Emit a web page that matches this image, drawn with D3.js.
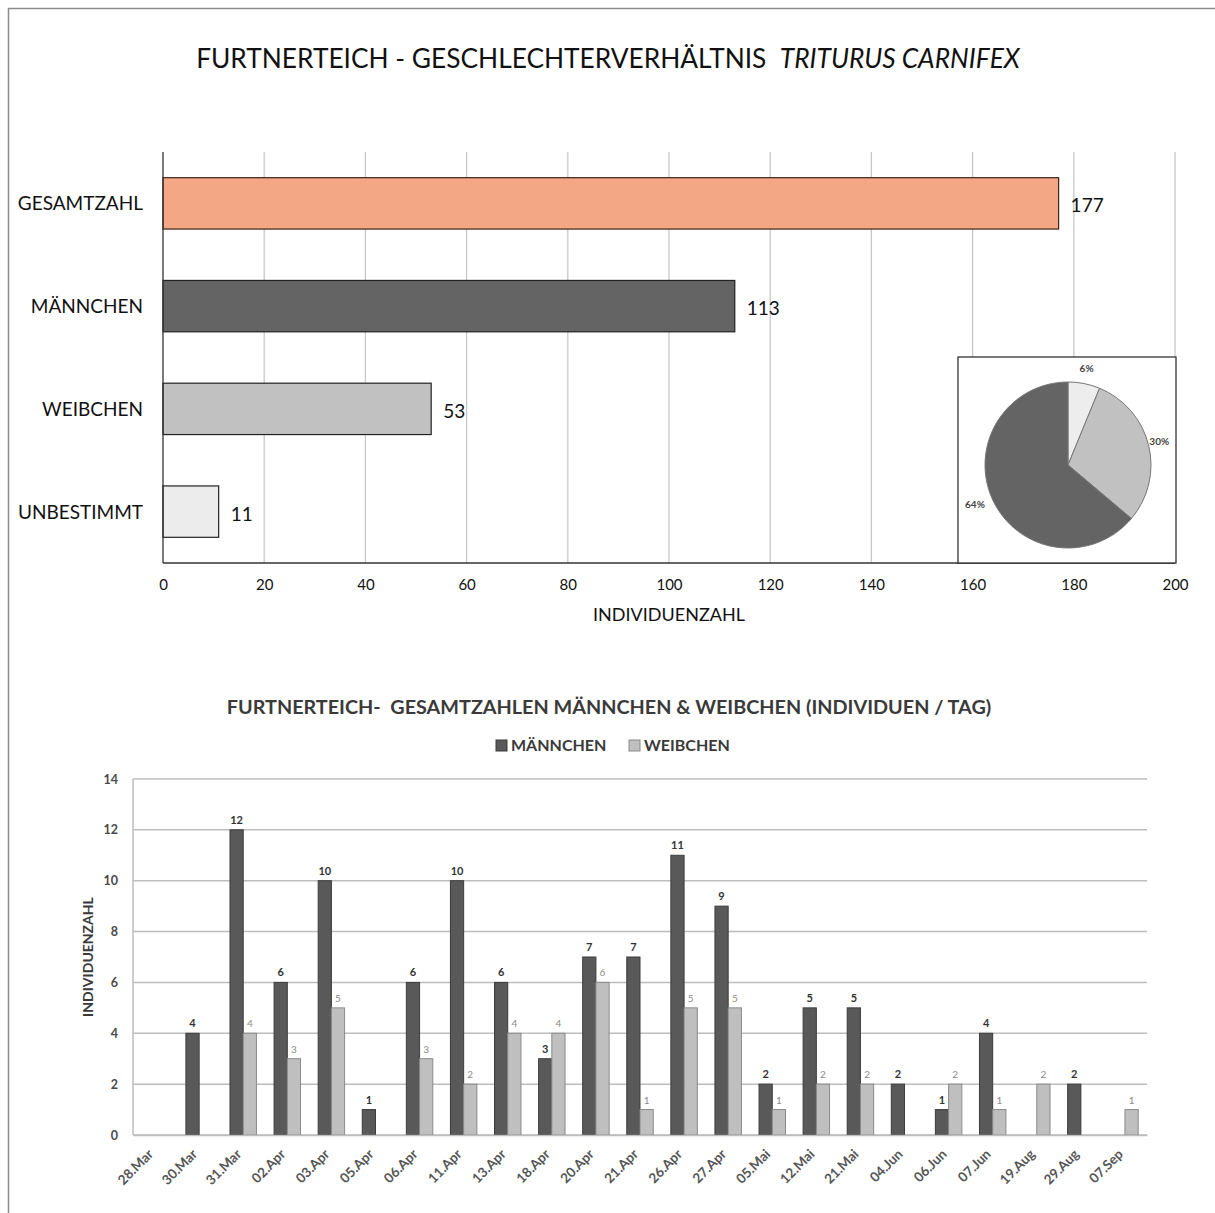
<!DOCTYPE html>
<html><head><meta charset="utf-8">
<script src="https://cdn.jsdelivr.net/npm/d3@7"></script>
<style>
body{margin:0;background:#fff;}
svg text{font-family:Lato,"Open Sans",sans-serif;}
</style></head>
<body>
<svg id="c" width="1215" height="1213"></svg>
<script>
// ---------- data ----------
const sexCategories = ["GESAMTZAHL","MÄNNCHEN","WEIBCHEN","UNBESTIMMT"];
const sexCounts = [177,113,53,11];
const sexColors = ["#f3a784","#646464","#c1c1c1","#ececec"];
const xTicksTop = [0,20,40,60,80,100,120,140,160,180,200];

const pieCategories = ["UNBESTIMMT","WEIBCHEN","MÄNNCHEN"];
const pieValues = [11,53,113];
const pieLabels = ["6%","30%","64%"];
const pieColors = ["#ededed","#c1c1c1","#646464"];

const dates = ["28.Mar","30.Mar","31.Mar","02.Apr","03.Apr","05.Apr","06.Apr","11.Apr","13.Apr","18.Apr","20.Apr","21.Apr","26.Apr","27.Apr","05.Mai","12.Mai","21.Mai","04.Jun","06.Jun","07.Jun","19.Aug","29.Aug","07.Sep"];
const maennchen = [0,4,12,6,10,1,6,10,6,3,7,7,11,9,2,5,5,2,1,4,0,2,0];
const weibchen  = [0,0,4,3,5,0,3,2,4,4,6,1,5,5,1,2,2,0,2,1,2,0,1];
const seriesNames = ["MÄNNCHEN","WEIBCHEN"];
const seriesColors = ["#595959","#bfbfbf"];
const seriesStrokes = ["#3c3c3c","#8a8a8a"];
const yTicksBottom = [0,2,4,6,8,10,12,14];

const svg = d3.select("#c");

// frame (top and left edges)
svg.append("line").attr("x1",8).attr("x2",1215).attr("y1",8.5).attr("y2",8.5).attr("stroke","#8c8c8c").attr("stroke-width",1.5);
svg.append("line").attr("x1",8.5).attr("x2",8.5).attr("y1",8).attr("y2",1213).attr("stroke","#8c8c8c").attr("stroke-width",1.5);

// ---------- top chart ----------
const t1 = svg.append("text").attr("x",608).attr("y",68).attr("text-anchor","middle")
  .attr("font-size",26.3).attr("fill","#111");
t1.append("tspan").text("FURTNERTEICH - GESCHLECHTERVERHÄLTNIS\u00a0\u00a0");
t1.append("tspan").attr("font-style","italic").text("TRITURUS CARNIFEX");

const xT = d3.scaleLinear().domain([0,200]).range([163,1175]);
const yT = d3.scaleBand().domain(sexCategories).range([152,563]).paddingInner(0.5).paddingOuter(0.25);

const gTop = svg.append("g");
gTop.selectAll("line.grid").data(xTicksTop.slice(1)).join("line")
  .attr("x1",d=>xT(d)).attr("x2",d=>xT(d)).attr("y1",152).attr("y2",563)
  .attr("stroke","#c8c8c8").attr("stroke-width",1.3);

gTop.selectAll("rect.bar").data(sexCategories).join("rect")
  .attr("x",xT(0)).attr("y",d=>yT(d))
  .attr("width",(d,i)=>xT(sexCounts[i])-xT(0)).attr("height",yT.bandwidth())
  .attr("fill",(d,i)=>sexColors[i]).attr("stroke",(d,i)=>i===0?"#3a2418":"#222").attr("stroke-width",1.2);

gTop.selectAll("text.val").data(sexCategories).join("text")
  .attr("x",(d,i)=>xT(sexCounts[i])+12).attr("y",d=>yT(d)+yT.bandwidth()/2+9)
  .attr("font-size",19).attr("fill","#111").text((d,i)=>sexCounts[i]);

gTop.selectAll("text.cat").data(sexCategories).join("text")
  .attr("x",143).attr("y",d=>yT(d)+yT.bandwidth()/2+7).attr("text-anchor","end")
  .attr("font-size",19).attr("fill","#111").text(d=>d);

gTop.append("line").attr("x1",163).attr("x2",163).attr("y1",152).attr("y2",563).attr("stroke","#333").attr("stroke-width",1.3);
gTop.append("line").attr("x1",163).attr("x2",1175).attr("y1",563).attr("y2",563).attr("stroke","#333").attr("stroke-width",1.3);

const axTop = d3.axisBottom(xT).tickValues(xTicksTop).tickSize(0).tickPadding(16);
const gax = svg.append("g").attr("transform","translate(0,563)").call(axTop);
gax.select(".domain").remove();
gax.selectAll("text").attr("font-size",15).attr("fill","#111").attr("font-family","Lato,'Open Sans',sans-serif");

svg.append("text").attr("x",669).attr("y",621).attr("text-anchor","middle")
  .attr("font-size",18).attr("fill","#111").text("INDIVIDUENZAHL");

// pie inset
svg.append("rect").attr("x",958).attr("y",357).attr("width",218).attr("height",206)
  .attr("fill","#fff").attr("stroke","#222").attr("stroke-width",1.2);
const pie = d3.pie().sort(null).value(d=>d)(pieValues);
const arc = d3.arc().innerRadius(0).outerRadius(83);
const gp = svg.append("g").attr("transform","translate(1068,465)");
gp.selectAll("path").data(pie).join("path").attr("d",arc)
  .attr("fill",(d,i)=>pieColors[i]).attr("stroke","#777").attr("stroke-width",1);
const labelArc = d3.arc().innerRadius(96).outerRadius(96);
gp.selectAll("text").data(pie).join("text")
  .attr("transform",(d,i)=>{const c=labelArc.centroid(d); return `translate(${c[0]+(i===1?-2:(i===2?-6:0))},${c[1]+(i===0?-1:0)})`;})
  .attr("text-anchor","middle").attr("dominant-baseline","middle")
  .attr("font-size",10).attr("font-weight","bold").attr("fill","#444").text((d,i)=>pieLabels[i]);

// ---------- bottom chart ----------
svg.append("text").attr("x",609).attr("y",714).attr("text-anchor","middle")
  .attr("font-size",19.8).attr("font-weight","bold").attr("fill","#3a3a3a")
  .text("FURTNERTEICH-\u00a0 GESAMTZAHLEN MÄNNCHEN & WEIBCHEN (INDIVIDUEN / TAG)");

const legX = [496,629];
const gl = svg.append("g");
seriesNames.forEach((s,i)=>{
  gl.append("rect").attr("x",legX[i]).attr("y",740).attr("width",11).attr("height",11)
    .attr("fill",seriesColors[i]).attr("stroke",seriesStrokes[i]);
  gl.append("text").attr("x",legX[i]+15).attr("y",751).attr("font-size",16).attr("font-weight","bold")
    .attr("fill","#3a3a3a").text(s);
});

const xB = d3.scaleBand().domain(dates).range([133,1147]).padding(0);
const xSub = d3.scaleBand().domain(seriesNames).range([xB.bandwidth()*0.2, xB.bandwidth()*0.8]);
const yB = d3.scaleLinear().domain([0,14]).range([1135,779]);

const gB = svg.append("g");
gB.selectAll("line.grid").data(yTicksBottom).join("line")
  .attr("x1",133).attr("x2",1147).attr("y1",d=>yB(d)).attr("y2",d=>yB(d))
  .attr("stroke","#bdbdbd").attr("stroke-width",1.5);
gB.append("line").attr("x1",133).attr("x2",133).attr("y1",yB(14)).attr("y2",yB(0)).attr("stroke","#bdbdbd").attr("stroke-width",1.5);

const allSeries = [maennchen, weibchen];
allSeries.forEach((vals,si)=>{
  const sName = seriesNames[si];
  const data = dates.map((d,i)=>({d, v:vals[i]})).filter(o=>o.v>0);
  gB.selectAll("rect.s"+si).data(data).join("rect")
    .attr("x",o=>xB(o.d)+xSub(sName)).attr("y",o=>yB(o.v))
    .attr("width",xSub.bandwidth()).attr("height",o=>yB(0)-yB(o.v))
    .attr("fill",seriesColors[si]).attr("stroke",seriesStrokes[si]).attr("stroke-width",1);
  gB.selectAll("text.s"+si).data(data).join("text")
    .attr("x",o=>xB(o.d)+xSub(sName)+xSub.bandwidth()/2).attr("y",o=>yB(o.v)-6)
    .attr("text-anchor","middle")
    .attr("font-size",si===0?11:10).attr("font-weight",si===0?"bold":"normal")
    .attr("fill",si===0?"#333":"#8a8a8a").text(o=>o.v);
});

const axL = d3.axisLeft(yB).tickValues(yTicksBottom).tickSize(0).tickPadding(15);
const gaxL = svg.append("g").attr("transform","translate(133,0)").call(axL);
gaxL.select(".domain").remove();
gaxL.selectAll("text").attr("font-size",12.5).attr("font-weight","bold").attr("fill","#4a4a4a").attr("font-family","Lato,'Open Sans',sans-serif");

svg.append("text").attr("transform","translate(93,957) rotate(-90)").attr("text-anchor","middle")
  .attr("font-size",14).attr("font-weight","bold").attr("fill","#3a3a3a").text("INDIVIDUENZAHL");

const axB = d3.axisBottom(xB).tickSize(0).tickPadding(0);
const gaxB = svg.append("g").attr("transform","translate(0,1135)").call(axB);
gaxB.select(".domain").attr("stroke","#bdbdbd").attr("stroke-width",1.5);
gaxB.selectAll("text").attr("font-size",13.5).attr("font-weight","bold").attr("fill","#555").attr("font-family","Lato,'Open Sans',sans-serif")
  .attr("text-anchor","end").attr("dy",0).attr("transform","translate(-1,20) rotate(-45)");
</script>
</body></html>
